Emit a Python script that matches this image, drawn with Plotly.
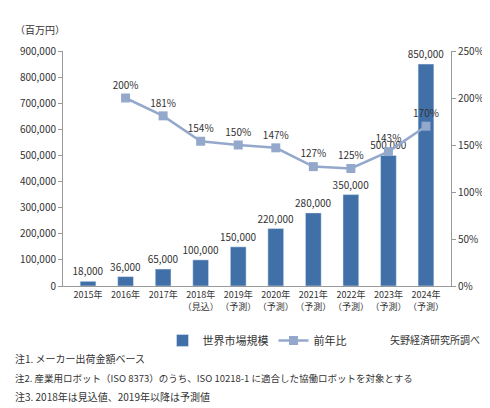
import plotly.graph_objects as go

cats = ["2015年","2016年","2017年","2018年<br>（見込）","2019年<br>（予測）","2020年<br>（予測）",
        "2021年<br>（予測）","2022年<br>（予測）","2023年<br>（予測）","2024年<br>（予測）"]
market = [18000,36000,65000,100000,150000,220000,280000,350000,500000,850000]
yoy = [None,200,181,154,150,147,127,125,143,170]

F = "Noto Sans CJK JP"
fig = go.Figure()
fig.add_trace(go.Bar(x=cats, y=market, name="世界市場規模", marker_color="#4170a8", width=0.42,
    text=[f"{v:,}" for v in market], textposition="outside", cliponaxis=False, constraintext="none",
    textfont=dict(size=10, color="#333")))
fig.add_trace(go.Scatter(x=cats, y=yoy, name="前年比", yaxis="y2", mode="lines+markers+text",
    line=dict(color="#94a8cc", width=2.5), marker=dict(symbol="square", size=9, color="#94a8cc"),
    text=[None if v is None else f"{v}%" for v in yoy], textposition="top center",
    textfont=dict(size=10, color="#333"), cliponaxis=False))
fig.update_layout(
    width=490, height=408, margin=dict(l=52, r=47, t=43, b=130),
    plot_bgcolor="white", paper_bgcolor="white", font=dict(family=F, size=10, color="#333"),
    bargap=0.5,
    xaxis=dict(showline=True, linecolor="#999", ticks="", tickangle=0, tickfont=dict(size=9)),
    yaxis=dict(range=[0,900000], dtick=100000, tickformat=",d", showline=True, linecolor="#999",
               ticks="outside", ticklen=4, tickcolor="#999", showgrid=False, tickfont=dict(size=10)),
    yaxis2=dict(range=[0,250], dtick=50, ticksuffix="%", overlaying="y", side="right", showline=True,
                linecolor="#999", ticks="outside", ticklen=4, tickcolor="#999", showgrid=False,
                tickfont=dict(size=10)),
    legend=dict(orientation="h", x=0.5, xanchor="center", y=-0.17, yanchor="top", font=dict(size=11)),
    annotations=[
        dict(text="（百万円）", xref="paper", yref="paper", x=-0.13, y=1.13, showarrow=False, xanchor="left", font=dict(size=10)),
        dict(text="矢野経済研究所調べ", xref="paper", yref="paper", x=1.08, y=-0.27, showarrow=False, xanchor="right", font=dict(size=10)),
        dict(text="注1. メーカー出荷金額ベース", xref="paper", yref="paper", x=-0.13, y=-0.35, showarrow=False, xanchor="left", font=dict(size=10)),
        dict(text="注2. 産業用ロボット（ISO 8373）のうち、ISO 10218-1 に適合した協働ロボットを対象とする", xref="paper", yref="paper", x=-0.13, y=-0.43, showarrow=False, xanchor="left", font=dict(size=9.5)),
        dict(text="注3. 2018年は見込値、2019年以降は予測値", xref="paper", yref="paper", x=-0.13, y=-0.51, showarrow=False, xanchor="left", font=dict(size=10)),
    ])
fig.write_html("out.html")
